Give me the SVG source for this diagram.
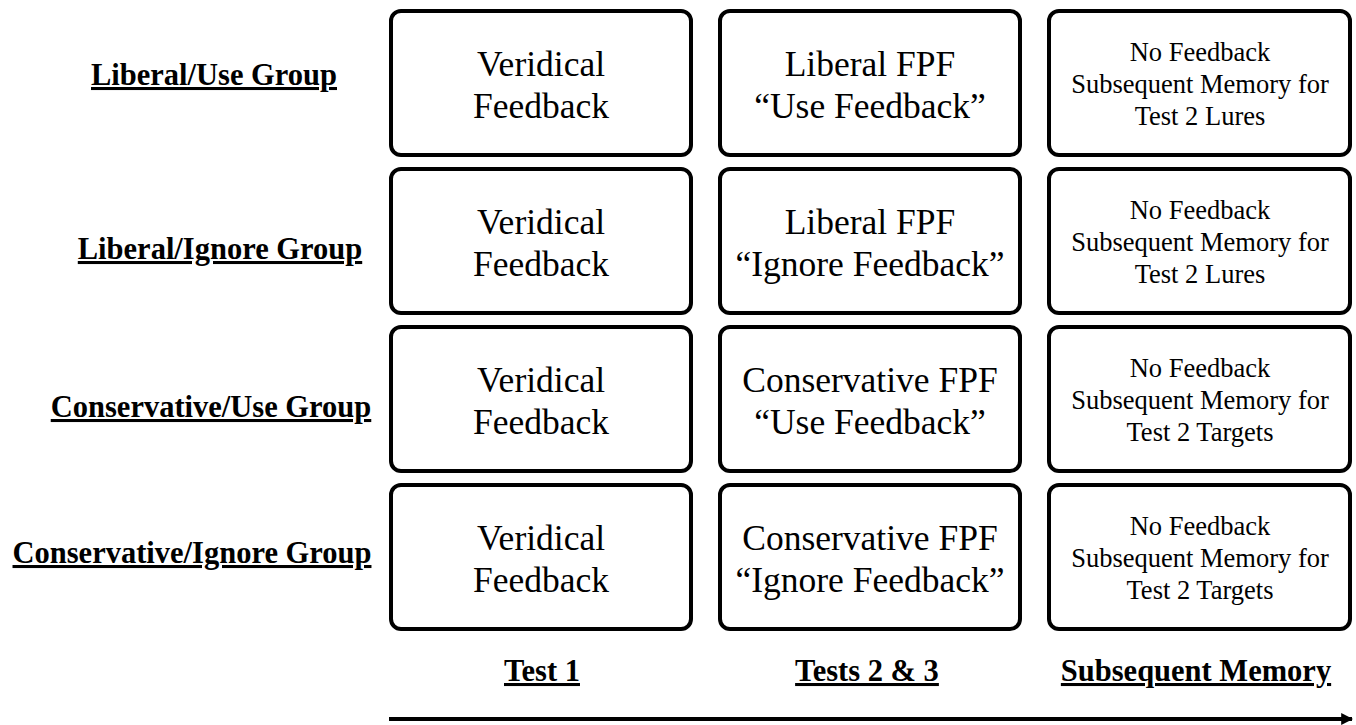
<svg xmlns="http://www.w3.org/2000/svg" width="1356" height="725" viewBox="0 0 1356 725">
<defs>
<style>
.box{fill:#fff;stroke:#000;stroke-width:4}
.t{font-family:"Liberation Serif","Times New Roman",serif;fill:#000;text-anchor:middle}
.big{font-size:35.5px}
.sm{font-size:26.5px}
.lab{font-size:30.5px;font-weight:bold;text-decoration:underline}
</style>
<marker id="ah" viewBox="0 0 10 10" refX="9" refY="5" markerWidth="3" markerHeight="3" orient="auto"><path d="M0,0 L10,5 L0,10 z" fill="#000"/></marker>
</defs>
<rect width="1356" height="725" fill="#fff"/>
<g id="row-labels">
<text class="t lab" x="214" y="85">Liberal/Use Group</text>
<text class="t lab" x="220" y="259">Liberal/Ignore Group</text>
<text class="t lab" x="211" y="417">Conservative/Use Group</text>
<text class="t lab" x="192" y="563">Conservative/Ignore Group</text>
</g>
<g id="r1c1"><rect class="box" x="391" y="11" width="300" height="144" rx="10"/><text class="t big" x="541" y="76">Veridical</text><text class="t big" x="541" y="118">Feedback</text></g>
<g id="r1c2"><rect class="box" x="720" y="11" width="300" height="144" rx="10"/><text class="t big" x="870" y="76">Liberal FPF</text><text class="t big" x="870" y="118">“Use Feedback”</text></g>
<g id="r1c3"><rect class="box" x="1049" y="11" width="301" height="144" rx="10"/><text class="t sm" x="1200" y="61">No Feedback</text><text class="t sm" x="1200" y="93">Subsequent Memory for</text><text class="t sm" x="1200" y="125">Test 2 Lures</text></g>
<g id="r2c1"><rect class="box" x="391" y="169" width="300" height="144" rx="10"/><text class="t big" x="541" y="234">Veridical</text><text class="t big" x="541" y="276">Feedback</text></g>
<g id="r2c2"><rect class="box" x="720" y="169" width="300" height="144" rx="10"/><text class="t big" x="870" y="234">Liberal FPF</text><text class="t big" x="870" y="276">“Ignore Feedback”</text></g>
<g id="r2c3"><rect class="box" x="1049" y="169" width="301" height="144" rx="10"/><text class="t sm" x="1200" y="219">No Feedback</text><text class="t sm" x="1200" y="251">Subsequent Memory for</text><text class="t sm" x="1200" y="283">Test 2 Lures</text></g>
<g id="r3c1"><rect class="box" x="391" y="327" width="300" height="144" rx="10"/><text class="t big" x="541" y="392">Veridical</text><text class="t big" x="541" y="434">Feedback</text></g>
<g id="r3c2"><rect class="box" x="720" y="327" width="300" height="144" rx="10"/><text class="t big" x="870" y="392">Conservative FPF</text><text class="t big" x="870" y="434">“Use Feedback”</text></g>
<g id="r3c3"><rect class="box" x="1049" y="327" width="301" height="144" rx="10"/><text class="t sm" x="1200" y="377">No Feedback</text><text class="t sm" x="1200" y="409">Subsequent Memory for</text><text class="t sm" x="1200" y="441">Test 2 Targets</text></g>
<g id="r4c1"><rect class="box" x="391" y="485" width="300" height="144" rx="10"/><text class="t big" x="541" y="550">Veridical</text><text class="t big" x="541" y="592">Feedback</text></g>
<g id="r4c2"><rect class="box" x="720" y="485" width="300" height="144" rx="10"/><text class="t big" x="870" y="550">Conservative FPF</text><text class="t big" x="870" y="592">“Ignore Feedback”</text></g>
<g id="r4c3"><rect class="box" x="1049" y="485" width="301" height="144" rx="10"/><text class="t sm" x="1200" y="535">No Feedback</text><text class="t sm" x="1200" y="567">Subsequent Memory for</text><text class="t sm" x="1200" y="599">Test 2 Targets</text></g>
<g id="column-labels">
<text class="t lab" x="542" y="681">Test 1</text>
<text class="t lab" x="867" y="681">Tests 2 &amp; 3</text>
<text class="t lab" x="1196" y="681">Subsequent Memory</text>
</g>
<g id="connectors">
<line x1="389" y1="719" x2="1352" y2="719" stroke="#000" stroke-width="4" marker-end="url(#ah)"/>
</g>
</svg>
